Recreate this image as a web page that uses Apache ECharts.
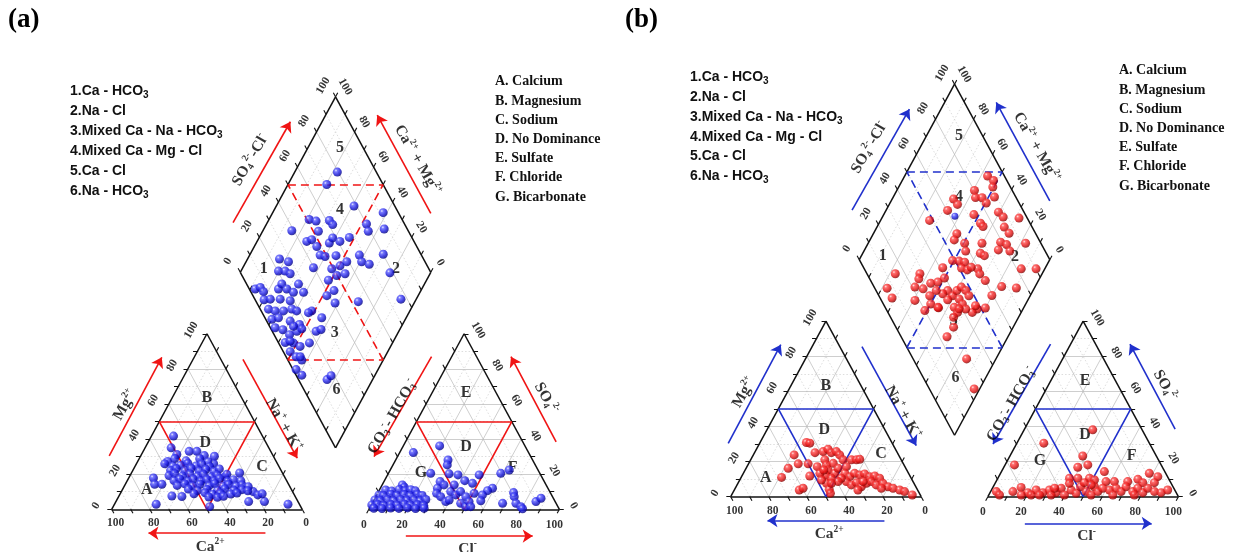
<!DOCTYPE html>
<html>
<head>
<meta charset="utf-8">
<script src="https://cdn.jsdelivr.net/npm/echarts@6.0.0/dist/echarts.min.js"></script>
<style>html,body{margin:0;padding:0;background:#fff}#c{width:1237px;height:552px}</style>
</head>
<body>
<div id="c"></div>
<script>
// ---------------- DATA (percent values) ----------------
// cation triangle: [Ca2+ %, Mg2+ %]  (Na+ + K+ = 100 - Ca - Mg)
const cationsA = [
 [46.7,41.7],[51.3,35.0],[42.8,33.0],[38.8,33.0],[36.1,30.6],[31.0,30.2],[33.5,26.0],[22.5,20.7],[57.0,27.3],[50.2,31.2],
 [69.2,17.8],[70.3,14.3],[66.5,14.3],[75.2,2.9],[64.6,7.6],[59.5,7.3],[6.0,2.9],[17.6,4.4],[25.9,4.4],[20.7,10.1],
 [19.2,8.2],[16.6,8.8],[47.8,1.5],
 [52.5,28.9],[47.2,27.6],[39.4,28.8],[35.9,27.1],
 [59.2,25.9],[55.7,24.6],[51.3,25.1],[46.9,26.2],[43.4,24.7],[39.9,25.8],[36.4,24.3],
 [58.0,22.1],[54.5,23.2],[50.6,22.0],[46.6,23.4],[43.1,21.9],[39.2,22.8],[35.5,21.6],[32.0,23.0],
 [60.3,19.2],[56.8,20.3],[53.3,19.0],[48.9,20.1],[45.4,18.9],[41.9,19.9],[38.4,18.6],[34.9,19.4],[31.3,18.5],[29.6,19.9],
 [59.1,16.4],[55.6,17.3],[52.1,16.0],[48.6,17.2],[45.1,16.1],[41.6,17.0],[38.1,16.2],[34.6,17.5],[31.1,16.0],[27.6,16.9],[24.1,16.2],
 [58.8,13.6],[54.4,14.5],[50.9,13.4],[46.5,14.3],[42.1,13.5],[38.6,14.6],[35.1,13.2],[31.6,14.1],[28.1,13.3],[24.6,13.9],[21.9,12.9],
 [54.0,11.5],[49.7,10.6],[44.4,11.3],[39.1,10.7],[34.8,11.6],[30.4,10.8],[26.0,11.2],[23.3,10.5],
 [52.4,8.8],[46.3,9.4],[42.8,8.6],[38.4,9.0],[33.1,8.7],[29.6,9.3],
 [45.5,7.0],[41.1,6.8],[37.6,7.4]
];
// anion triangle: [Cl- %, SO4 2- %]  (CO3 + HCO3 = 100 - Cl - SO4)
const anionsA = [
 [19.1,36.1],[7.2,32.3],[27.5,28.1],[28.5,25.3],[22.2,20.5],[32.0,20.2],[37.0,19.6],[29.5,15.8],[42.2,16.3],[48.1,19.6],
 [47.0,14.8],[59.0,20.5],[62.5,22.4],[58.9,12.0],[57.0,10.6],[55.5,8.2],[56.3,4.9],[71.2,9.5],[72.7,7.2],[68.5,3.4],
 [75.5,3.4],[79.0,1.5],[80.5,0.3],[85.5,4.4],[87.2,6.3],[30.0,12.0],[31.0,9.1],[34.1,7.2],[38.2,4.4],[37.9,10.1],
 [41.5,8.2],[43.1,10.1],[47.3,7.2],[46.5,3.4],[50.1,1.5],[50.4,4.4],[52.7,1.5],[32.5,13.9],[37.8,13.9],[39.5,5.3],[50.7,9.1],
 [10.6,13.9],[12.3,12.6],
 [3.3,11.0],[6.8,10.4],[10.3,11.3],[13.8,10.6],[16.4,11.2],[19.1,10.5],
 [1.2,8.2],[3.8,7.8],[7.3,8.6],[10.8,7.9],[14.3,8.4],[17.8,7.7],[21.3,8.5],[24.0,7.9],
 [0.5,5.3],[3.5,5.0],[7.0,5.6],[10.5,4.9],[14.0,5.5],[17.5,5.1],[21.0,5.4],[24.5,4.8],[27.1,5.6],
 [0.3,2.5],[3.2,2.8],[6.7,2.2],[10.2,2.7],[13.7,2.3],[17.2,2.9],[20.7,2.4],[24.2,2.6],[27.7,2.2],
 [2.3,0.6],[6.7,0.4],[11.1,0.7],[15.5,0.5],[19.9,0.8],[24.3,0.4],[28.7,0.6]
];
// diamond: [SO4 2- + Cl- %, Ca2+ + Mg2+ %]
const diamondA = [
 [79.5,77.6],[70.4,79.6],[78.6,59.2],[92.0,42.0],[80.0,47.5],[78.9,44.5],[87.9,36.8],[51.2,78.9],[54.4,74.8],[61.5,68.0],
 [62.1,65.1],[38.9,84.8],[52.7,70.7],[43.7,73.9],[46.8,71.8],[55.1,61.6],[58.3,61.3],[61.1,56.5],[67.2,52.7],[47.5,67.2],
 [46.8,63.0],[49.0,60.0],[55.0,54.5],[39.7,62.9],[49.0,53.0],[54.2,49.5],[58.9,47.1],[49.7,48.5],[54.6,44.6],[67.4,42.4],
 [66.7,39.3],[70.0,34.6],[80.2,30.1],[78.4,21.3],[76.7,8.0],[53.6,29.7],[44.0,51.5],[44.0,45.6],[38.8,47.9],[41.0,41.5],
 [26.5,51.5],[29.8,44.3],[23.0,43.4],[26.1,41.3],[24.3,52.7],
 [24.4,83.2],[28.3,77.7],[20.4,80.3],[23.9,76.8],[25.8,73.4],[3.1,87.4],[6.2,85.2],[6.7,82.3],[15.3,75.2],[18.5,74.9],
 [19.7,70.8],[22.2,66.4],[27.2,66.1],[27.5,61.1],[4.7,79.7],[8.1,76.6],[13.3,71.4],[18.1,65.7],[4.3,74.7],[7.3,70.7],
 [11.7,66.3],[16.6,62.5],[18.6,59.4],[3.2,70.0],[7.1,67.0],[12.3,59.9],[16.2,54.1],[2.5,65.9],[6.0,61.3],[8.1,56.4],
 [12.9,53.5],[3.6,56.4],[7.8,51.9],[3.6,51.2],[5.3,46.6],[7.3,42.7],[16.2,43.6],[10.3,47.5],
 [12.6,56.7],[16.2,51.6],[6.6,54.2],[7.4,44.5],[1.6,43.0],[3.0,38.4],[15.0,23.9],[18.2,22.9]
];
const cationsB = [
 [44.8,30.9],[43.2,30.5],[54.8,23.8],[61.7,16.2],[67.8,11.0],[55.2,18.7],[62.1,3.8],[59.6,4.8],[50.0,18.7],[52.6,11.8],
 [43.2,25.1],[46.0,17.1],[38.6,25.7],[35.4,27.0],[34.6,25.1],[31.7,25.7],[30.9,23.8],[40.1,21.0],[40.7,18.1],[41.3,15.2],
 [43.9,12.4],[45.9,7.6],[46.2,4.2],[46.7,1.9],[36.7,19.0],[38.7,13.3],[35.5,16.2],[30.5,21.0],[30.7,17.1],[26.1,21.0],
 [23.5,21.0],[21.6,21.3],[33.4,13.3],[31.8,11.4],[28.3,13.3],[26.1,12.4],[23.2,13.0],[21.4,11.4],[18.5,11.8],[16.6,10.5],
 [35.0,8.6],[33.3,6.7],[30.0,8.0],[28.6,5.7],[25.0,7.6],[21.9,8.6],[20.3,6.7],[16.3,7.6],[14.6,5.7],[12.4,4.8],
 [9.4,3.8],[7.3,2.9],[4.2,1.0],[36.7,10.5],[46.5,13.3],[47.6,9.5],[41.9,10.5],[39.3,8.6],[43.3,7.6],[43.5,15.2],
 [26.2,8.6],[31.3,3.8],[18.5,4.8]
];
const anionsB = [
 [36.0,38.1],[14.1,30.5],[38.2,23.2],[4.9,18.1],[38.8,16.8],[43.4,18.1],[54.0,14.3],[78.1,13.3],[83.5,11.4],[37.6,10.5],
 [42.0,10.5],[48.1,10.5],[51.2,9.5],[57.7,8.6],[62.1,8.6],[69.1,8.6],[73.8,9.9],[77.3,8.0],[83.4,8.0],[14.8,5.3],
 [3.0,2.9],[5.6,1.0],[11.7,2.9],[19.8,2.3],[23.4,3.8],[27.7,2.3],[30.4,3.8],[34.7,2.3],[36.1,4.8],[39.7,1.0],
 [41.8,3.8],[45.4,1.9],[45.8,5.7],[50.2,2.9],[53.7,1.0],[53.1,5.7],[56.3,2.9],[57.9,4.8],[61.9,3.8],[64.9,4.8],
 [68.5,2.9],[69.7,5.7],[74.6,2.9],[76.3,4.8],[80.2,2.3],[81.5,4.8],[86.0,2.9],[89.8,2.3],[92.5,3.8],[22.2,1.0],
 [26.6,1.0],[32.7,1.0],[39.0,7.6],[46.7,8.0],[50.9,6.7],[65.1,1.0],[76.4,1.0],[32.6,4.8],[17.0,1.0]
];
const diamondB = [
 [91.2,56.5],[93.0,52.1],[90.8,50.6],[80.2,59.3],[78.7,56.7],[82.1,53.2],[88.8,46.9],[82.8,49.5],[66.8,67.8],[67.3,64.2],
 [60.4,67.7],[48.1,74.3],[73.0,52.7],[74.0,46.8],[74.4,44.5],[86.6,40.5],[87.7,36.6],[95.7,28.0],[85.4,33.2],[86.2,28.9],
 [58.6,56.2],[55.5,55.8],[60.0,49.4],[69.1,40.3],[79.2,30.8],[81.6,27.0],[75.8,29.8],[81.5,23.4],[92.0,17.4],[65.4,38.3],
 [66.8,35.5],[58.3,46.6],[82.4,12.4],[90.2,4.6],[14.9,77.1],[6.5,77.3],[6.3,71.9],[48.7,50.8],[52.0,47.2],[54.6,44.0],
 [41.5,53.9],[51.3,44.0],[53.8,40.4],[59.6,35.2],[59.2,32.7],[60.2,27.9],[67.1,17.6],[74.4,9.5],[59.4,20.2],[52.4,20.1],
 [47.8,24.1],[44.3,25.7],[27.8,64.2],[25.8,63.3],[21.4,63.0],[25.2,58.2],[30.8,55.8],[34.9,52.4],[39.5,50.1],[37.6,44.8],
 [34.1,46.5],[31.6,50.8],[26.7,52.8],[17.6,59.2],[19.9,51.1],[24.9,49.9],[27.7,45.2],[38.7,40.8],[42.4,40.0],[45.8,38.6],
 [47.1,35.4],[47.3,32.2],[41.2,36.4],[35.0,42.2],[36.3,36.6],[41.5,33.3],[41.8,30.1],[36.6,33.4],[33.1,34.1],[30.3,31.3],
 [24.1,32.0],[27.9,44.7],[38.4,33.6],[47.9,25.9],[28.1,15.4],[56.6,39.1],[23.5,2.9]
];
const diamondBExtra = [[62.6,62.2]];
const tickValues = [0, 20, 40, 60, 80, 100];
const regionNames = ['A','B','C','D','E','D','F','G','1','2','3','4','5','6'];
const legendNumbers = ['1.Ca - HCO|3', '2.Na - Cl', '3.Mixed Ca - Na - HCO|3', '4.Mixed Ca - Mg - Cl', '5.Ca - Cl', '6.Na - HCO|3'];
const legendLetters = ['A. Calcium','B. Magnesium','C. Sodium','D. No Dominance','E. Sulfate','F. Chloride','G. Bicarbonate'];

// ---------------- GEOMETRY ----------------
const SERIF = '"Liberation Serif","Times New Roman",serif';
const SANS = '"Liberation Sans",Arial,sans-serif';
const S3 = Math.sqrt(3) / 2;
const GAP = 35, OX2 = 100 + GAP, BX = 100 + GAP / 2, BY = GAP * S3;
const XMIN = -30, XMAX = 265, YMIN = -21, YMAX = 215;
const KX = 1.905, KY = 2.027;
function tern(ox, r, t) { return [ox + r + t / 2, t * S3]; }
function catXY(ca, mg) { return tern(0, 100 - ca - mg, mg); }
function aniXY(cl, so4) { return tern(OX2, cl, so4); }
function diaXY(s, t) { return [BX + (s - t) / 2, BY + (s + t) * S3]; }
function add(p, d) { return [p[0] + d[0], p[1] + d[1]]; }
function seg(p, q) { return { coords: [p, q] }; }

const regionPos = [[18.4,9.5],[50,54.9],[78.9,21],[49.1,32.9],[186,57.2],[186,30.6],[210.5,20.2],[162.3,17.8],
  [79.8,118.8],[149.3,118.4],[117.1,86.8],[119.9,147.7],[119.9,178.1],[118,58.8]];
const arrows = [
  [[-1.3,26.3],[26.3,75]], [[68.9,74],[97.4,25.2]], [[80.7,-11.8],[19.3,-11.8]],
  [[167.9,75.3],[137.7,26]], [[233.3,33.3],[209.6,75.3]], [[154.4,-13.2],[221,-13.2]],
  [[63.7,141.4],[93.8,191.2]], [[167.5,146],[139.4,194.5]]
];
const titles = [
  {pos:[7.05,51.5], rot:60, text:'{b|Mg}{sup|2+}'},
  {pos:[90.3,41.6], rot:-60, text:'{b|Na}{sup|+}{b| + K}{sup|+}'},
  {pos:[51.7,-18.5], rot:0, text:'{b|Ca}{sup|2+}'},
  {pos:[147.4,45.7], rot:60, text:'{b|CO}{sub|3}{sup|-}{b|- HCO}{sub|3}{sup|-}'},
  {pos:[228,54.8], rot:-60, text:'{b|SO}{sub|4}{sup|2-}'},
  {pos:[186.8,-19.5], rot:0, text:'{b|Cl}{sup|-}'},
  {pos:[72.8,172.3], rot:60, text:'{b|SO}{sub|4}{sup|2-}{b|-Cl}{sup|-}'},
  {pos:[160.5,172.3], rot:-60, text:'{b|Ca}{sup|2+}{b| + Mg}{sup|2+}'}
];

function ball(kind) {
  const stops = kind === 'blue'
    ? [{offset:0,color:'#e6e8ff'},{offset:0.22,color:'#5a5cff'},{offset:0.65,color:'#1414d8'},{offset:1,color:'#00007a'}]
    : [{offset:0,color:'#ffe0e0'},{offset:0.22,color:'#ff4a4a'},{offset:0.65,color:'#e01010'},{offset:1,color:'#7a0000'}];
  return new echarts.graphic.RadialGradient(0.35, 0.32, 0.72, stops);
}

const PANELS = [
  {ox:111.7, oy:509.3, color:'#f01414', ball:'blue', cat:cationsA, ani:anionsA, dia:diamondA, extra:[]},
  {ox:730.7, oy:496.7, color:'#2030cc', ball:'red', cat:cationsB, ani:anionsB, dia:diamondB, extra:diamondBExtra}
];

function buildPanel(gi, P) {
  const ax = {xAxisIndex: gi, yAxisIndex: gi, silent: true, animation: false};
  const minor = [], major = [];
  for (let k = 10; k < 100; k += 10) {
    const arr = (k % 20 === 0) ? major : minor;
    [0, OX2].forEach(ox => {
      arr.push(seg(tern(ox,0,k), tern(ox,100-k,k)));
      arr.push(seg(tern(ox,k,0), tern(ox,k,100-k)));
      arr.push(seg(tern(ox,100-k,0), tern(ox,0,100-k)));
    });
    arr.push(seg(diaXY(k,0), diaXY(k,100)));
    arr.push(seg(diaXY(0,k), diaXY(100,k)));
  }
  const outline = [];
  [0, OX2].forEach(ox => {
    outline.push(seg(tern(ox,0,0), tern(ox,100,0)));
    outline.push(seg(tern(ox,100,0), tern(ox,0,100)));
    outline.push(seg(tern(ox,0,100), tern(ox,0,0)));
  });
  outline.push(seg(diaXY(0,0), diaXY(100,0)));
  outline.push(seg(diaXY(100,0), diaXY(100,100)));
  outline.push(seg(diaXY(100,100), diaXY(0,100)));
  outline.push(seg(diaXY(0,100), diaXY(0,0)));

  const ticks = [];
  const TL = 2.3;
  const tk = (p, d) => ticks.push(seg(p, [p[0] + d[0]*TL, p[1] + d[1]*TL]));
  for (let v = 0; v <= 100; v += 10) {
    tk(tern(0,100-v,0), [0.5,-S3]);
    tk(tern(0,0,v), [-1,0]);
    tk(tern(OX2,v,0), [-0.5,-S3]);
    tk(tern(OX2,100-v,v), [1,0]);
    tk(diaXY(v,100), [-0.5,S3]);
    tk(diaXY(100,v), [0.5,S3]);
    if (v > 0 && v < 100) {
      tk(tern(0,v,100-v), [0.5,S3]);
      tk(tern(OX2,0,100-v), [-0.5,S3]);
      tk(diaXY(0,v), [0.5,S3]);
      tk(diaXY(v,0), [-0.5,S3]);
    }
  }
  const region = [];
  [0, OX2].forEach(ox => {
    region.push(seg(tern(ox,0,50), tern(ox,50,50)));
    region.push(seg(tern(ox,50,50), tern(ox,50,0)));
    region.push(seg(tern(ox,50,0), tern(ox,0,50)));
  });
  const regionDash = [
    seg(diaXY(50,0), diaXY(50,100)), seg(diaXY(0,50), diaXY(100,50)),
    seg(diaXY(50,100), diaXY(100,50)), seg(diaXY(0,50), diaXY(50,0))
  ];

  const lab = (pos, text, rot) => ({name: text, value: pos, label: {rotate: rot}});
  const tl = [];
  tickValues.forEach(v => {
    const t = String(v);
    tl.push(lab(add(tern(0,100-v,0), [2.1,-6.9]), t, 0));
    tl.push(lab(add(tern(0,0,v), [-8.2,1.7]), t, 60));
    tl.push(lab(add(tern(OX2,v,0), [-2.6,-7.7]), t, 0));
    tl.push(lab(add(tern(OX2,100-v,v), [7.4,1.7]), t, -60));
    tl.push(lab(add(diaXY(v,100), [-6.5,5.4]), t, 60));
    tl.push(lab(add(diaXY(100,v), [5,4.9]), t, -60));
  });
  const txtBase = {type:'scatter', symbol:'circle', symbolSize:1, itemStyle:{color:'rgba(0,0,0,0)'}, z:7, clip:false};

  return [
    Object.assign({type:'lines', coordinateSystem:'cartesian2d', z:1,
      lineStyle:{color:'#cfcfcf', width:0.7, type:[1.5,2], opacity:1}, data:minor}, ax),
    Object.assign({type:'lines', coordinateSystem:'cartesian2d', z:1,
      lineStyle:{color:'#b9b9b9', width:0.7, type:'solid', opacity:1}, data:major}, ax),
    Object.assign({type:'lines', coordinateSystem:'cartesian2d', z:3,
      lineStyle:{color:'#111', width:1.5, opacity:1}, data:outline}, ax),
    Object.assign({type:'lines', coordinateSystem:'cartesian2d', z:3,
      lineStyle:{color:'#111', width:1.1, opacity:1}, data:ticks}, ax),
    Object.assign({type:'lines', coordinateSystem:'cartesian2d', z:4,
      lineStyle:{color:P.color, width:1.6, opacity:1}, data:region}, ax),
    Object.assign({type:'lines', coordinateSystem:'cartesian2d', z:4,
      lineStyle:{color:P.color, width:1.6, type:[8,5], opacity:1}, data:regionDash}, ax),
    Object.assign({type:'lines', coordinateSystem:'cartesian2d', z:4,
      symbol:['none','arrow'], symbolSize:[0,10],
      lineStyle:{color:P.color, width:1.6, opacity:1}, itemStyle:{color:P.color},
      data: arrows.map(a => seg(a[0], a[1]))}, ax),
    Object.assign({}, txtBase, ax, {
      label:{show:true, position:'inside', formatter:'{b}', fontFamily:SERIF, fontWeight:'bold', fontSize:11.5, color:'#000', textBorderWidth:0},
      data: tl}),
    Object.assign({}, txtBase, ax, {
      label:{show:true, position:'inside', formatter:'{b}', fontFamily:SERIF, fontWeight:'bold', fontSize:16, color:'#000', textBorderWidth:0},
      data: regionNames.map((n, i) => ({name:n, value:regionPos[i]}))}),
    Object.assign({}, txtBase, ax, {
      label:{show:true, position:'inside', formatter: p => p.name, color:'#000', textBorderWidth:0,
        rich:{
          b:{fontFamily:SERIF, fontWeight:'bold', fontSize:15.5, color:'#000'},
          sup:{fontFamily:SERIF, fontWeight:'bold', fontSize:9.5, color:'#000', padding:[0,0,10,0]},
          sub:{fontFamily:SERIF, fontWeight:'bold', fontSize:9.5, color:'#000', padding:[8,0,0,0]}
        }},
      data: titles.map(t => ({name:t.text, value:t.pos, label:{rotate:t.rot}}))}),
    Object.assign({type:'scatter', symbolSize:9, z:8, itemStyle:{color:ball(P.ball)}, data:P.cat.map(d => catXY(d[0], d[1]))}, ax),
    Object.assign({type:'scatter', symbolSize:9, z:8, itemStyle:{color:ball(P.ball)}, data:P.ani.map(d => aniXY(d[0], d[1]))}, ax),
    Object.assign({type:'scatter', symbolSize:9, z:8, itemStyle:{color:ball(P.ball)}, data:P.dia.map(d => diaXY(d[0], d[1]))}, ax),
    Object.assign({type:'scatter', symbolSize:7, z:9, itemStyle:{color:ball('blue')}, data:P.extra.map(d => diaXY(d[0], d[1]))}, ax)
  ];
}

function legendNum() {
  return legendNumbers.map(s => {
    const parts = s.split('|');
    return '{a|' + parts[0] + '}' + (parts[1] ? '{s|' + parts[1] + '}' : '');
  }).join('\n');
}
const richNum = {
  a:{fontFamily:SANS, fontWeight:'bold', fontSize:14, color:'#111', lineHeight:19.9},
  s:{fontFamily:SANS, fontWeight:'bold', fontSize:10, color:'#111', padding:[8,0,0,0], lineHeight:19.9}
};
const letterStyle = {fontFamily:SERIF, fontWeight:'bold', fontSize:14, color:'#111', lineHeight:19.2};
const panelStyle = {fontFamily:SERIF, fontWeight:'bold', fontSize:27, color:'#000'};

const chart = echarts.init(document.getElementById('c'), null, {renderer:'canvas'});
const option = {
  backgroundColor:'#fff',
  animation:false,
  title:[
    {text:'(a)', left:8, top:7, padding:0, textStyle:panelStyle},
    {text:'(b)', left:625, top:7, padding:0, textStyle:panelStyle},
    {text:legendNum(), left:70, top:81.3, padding:0, textStyle:{rich:richNum, lineHeight:19.9}},
    {text:legendNum(), left:690, top:67, padding:0, textStyle:{rich:richNum, lineHeight:19.9}},
    {text:legendLetters.join('\n'), left:495, top:72.1, padding:0, textStyle:letterStyle},
    {text:legendLetters.join('\n'), left:1119, top:61.1, padding:0, textStyle:letterStyle}
  ],
  grid: PANELS.map(p => ({left:p.ox + XMIN*KX, top:p.oy - YMAX*KY, width:(XMAX-XMIN)*KX, height:(YMAX-YMIN)*KY,
    containLabel:false, outerBoundsMode:'none'})),
  xAxis: PANELS.map((p, i) => ({type:'value', gridIndex:i, min:XMIN, max:XMAX, show:false})),
  yAxis: PANELS.map((p, i) => ({type:'value', gridIndex:i, min:YMIN, max:YMAX, show:false})),
  series: [].concat(buildPanel(0, PANELS[0]), buildPanel(1, PANELS[1]))
};
chart.setOption(option);
</script>
</body>
</html>
